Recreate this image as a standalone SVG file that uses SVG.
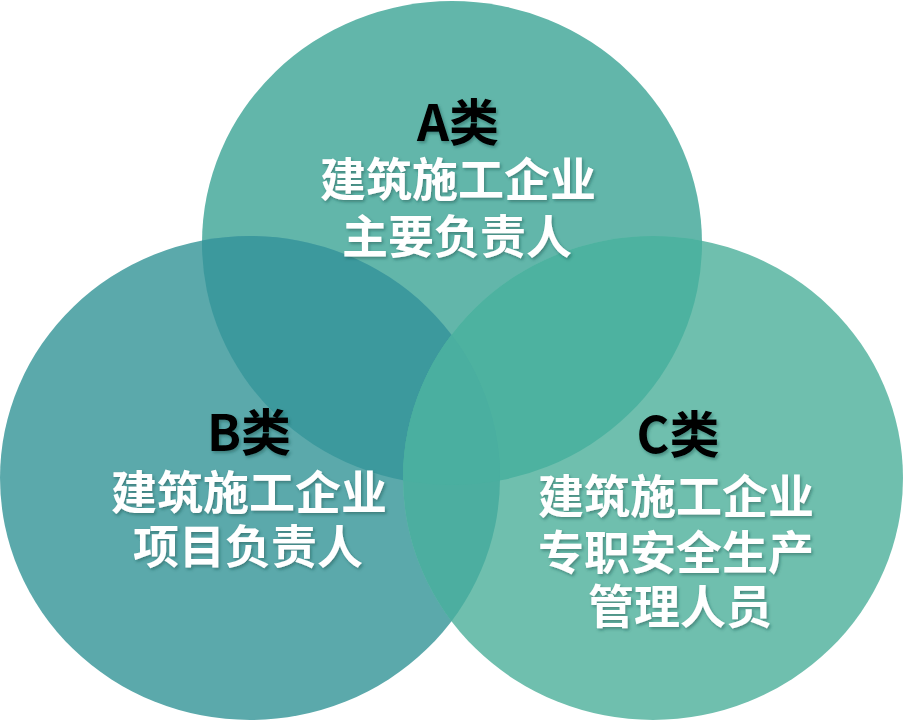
<svg xmlns="http://www.w3.org/2000/svg" width="904" height="722" viewBox="0 0 904 722">
<style>
.t{font-family:"Noto Sans CJK SC","Microsoft YaHei",sans-serif;font-weight:700;font-size:46px;text-anchor:middle;filter:url(#sh)}
.h{font-size:50px}
.w{fill:#ffffff}
.k{fill:#000000}
</style>
<defs>
<filter id="sh" x="-10%" y="-20%" width="130%" height="150%">
<feDropShadow dx="1.5" dy="2" stdDeviation="1.5" flood-color="#1a4a44" flood-opacity="0.45"/>
</filter>
<clipPath id="cA"><ellipse cx="452" cy="243" rx="250" ry="242"/></clipPath>
<clipPath id="cB"><ellipse cx="250" cy="478" rx="250" ry="242"/></clipPath>
<clipPath id="cC"><ellipse cx="653" cy="478" rx="250" ry="242"/></clipPath>
</defs>
<rect width="904" height="722" fill="#ffffff"/>
<g id="node-a"><ellipse cx="452" cy="243" rx="250" ry="242" fill="#62b6aa"/></g>
<g id="node-b"><ellipse cx="250" cy="478" rx="250" ry="242" fill="#5ba9ab"/></g>
<g id="node-c"><ellipse cx="653" cy="478" rx="250" ry="242" fill="#6fbfae"/></g>
<g id="overlaps">
<g clip-path="url(#cA)"><ellipse cx="250" cy="478" rx="250" ry="242" fill="#3c999d"/></g>
<g clip-path="url(#cA)"><ellipse cx="653" cy="478" rx="250" ry="242" fill="#4db2a0"/></g>
<g clip-path="url(#cB)"><ellipse cx="653" cy="478" rx="250" ry="242" fill="#4caea0"/></g>
<g clip-path="url(#cA)"><g clip-path="url(#cB)"><ellipse cx="653" cy="478" rx="250" ry="242" fill="#4aafa0"/></g></g>
</g>
<g id="connectors"/>
<g id="label-a">
<text class="t h k" x="458" y="141">A类</text>
<text class="t w" x="458" y="196">建筑施工企业</text>
<text class="t w" x="457" y="253">主要负责人</text>
</g>
<g id="label-b">
<text class="t h k" x="249" y="451">B类</text>
<text class="t w" x="249" y="509">建筑施工企业</text>
<text class="t w" x="248" y="563">项目负责人</text>
</g>
<g id="label-c">
<text class="t h k" x="678" y="453">C类</text>
<text class="t w" x="676" y="513">建筑施工企业</text>
<text class="t w" x="676" y="569">专职安全生产</text>
<text class="t w" x="680" y="623">管理人员</text>
</g>
</svg>
